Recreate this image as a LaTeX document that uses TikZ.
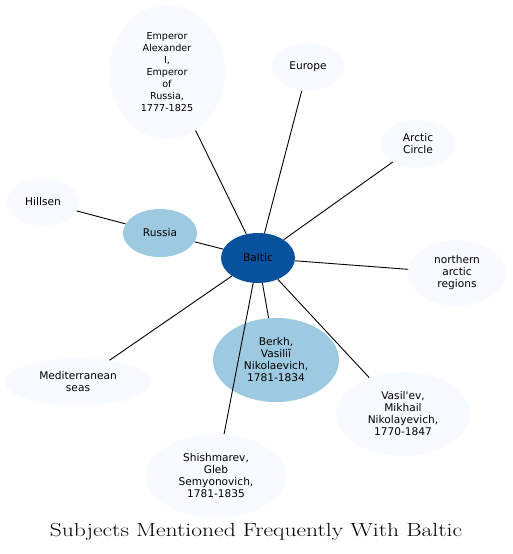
\documentclass[tikz,border=0pt]{standalone}
\usepackage{fontspec}
\newfontfamily\dvs{DejaVu Sans}
\usetikzlibrary{shapes.geometric}
\definecolor{dark}{HTML}{08519C}
\definecolor{mid}{HTML}{9ECAE1}
\definecolor{pale}{HTML}{F7FBFF}
\begin{document}
\begin{tikzpicture}[x=1pt,y=-1pt,
  ent/.style={ellipse, fill=pale, inner sep=0pt, align=center,
    font=\dvs\fontsize{10.6}{12}\selectfont},
  mident/.style={ent, fill=mid},
  hub/.style={ent, fill=dark},
  link/.style={draw=black, line width=0.9pt}]
\useasboundingbox (0,0) rectangle (512,554);
\node[hub, minimum width=74pt, minimum height=50pt] (baltic) at (258,258) {Baltic};
\node[mident, minimum width=74pt, minimum height=48pt] (russia) at (160,233) {Russia};
\node[mident, minimum width=126pt, minimum height=84pt] (berkh) at (276,360) {Berkh,\\Vasiliĭ\\Nikolaevich,\\1781-1834};
\node[ent, minimum width=116pt, minimum height=134pt, font=\dvs\fontsize{9.6}{12}\selectfont] (emperor) at (167,72) {Emperor\\Alexander\\I,\\Emperor\\of\\Russia,\\1777-1825};
\node[ent, minimum width=72pt, minimum height=48pt] (europe) at (308,67) {Europe};
\node[ent, minimum width=74pt, minimum height=48pt] (arctic) at (418,144) {Arctic\\Circle};
\node[ent, minimum width=72pt, minimum height=48pt] (hillsen) at (43,202) {Hillsen};
\node[ent, minimum width=98pt, minimum height=66pt] (northern) at (457,273) {northern\\arctic\\regions};
\node[ent, minimum width=146pt, minimum height=48pt] (medit) at (78,382) {Mediterranean\\seas};
\node[ent, minimum width=134pt, minimum height=84pt] (vasilev) at (403,414) {Vasil'ev,\\Mikhail\\Nikolayevich,\\1770-1847};
\node[ent, minimum width=140pt, minimum height=84pt] (shish) at (216,476) {Shishmarev,\\Gleb\\Semyonovich,\\1781-1835};
\draw[link] (baltic) -- (emperor);
\draw[link] (baltic) -- (europe);
\draw[link] (baltic) -- (arctic);
\draw[link] (baltic) -- (northern);
\draw[link] (baltic) -- (vasilev);
\draw[link] (baltic) -- (berkh);
\draw[link] (baltic) -- (shish);
\draw[link] (baltic) -- (medit);
\draw[link] (baltic) -- (russia);
\draw[link] (russia) -- (hillsen);
\node[inner sep=0pt] (title) at (256,532) {\scalebox{1.24}[1]{\fontsize{19}{21}\selectfont Subjects Mentioned Frequently With Baltic}};
\end{tikzpicture}
\end{document}
